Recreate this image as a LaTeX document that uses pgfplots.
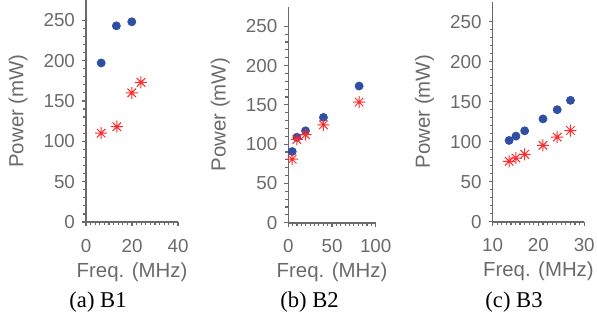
\documentclass[border=0pt]{standalone}
\usepackage{pgfplots}
\pgfplotsset{compat=1.18}
\usepackage{fontspec}
\setmainfont{Liberation Sans}
\newfontfamily\capfont{Liberation Serif}
\definecolor{mblue}{HTML}{2F4FA5}
\definecolor{mred}{HTML}{FF2A2A}
\definecolor{axgray}{HTML}{6A6A6A}
\pgfdeclareplotmark{starx}{%
 \pgfpathmoveto{\pgfqpoint{-\pgfplotmarksize}{0pt}}\pgfpathlineto{\pgfqpoint{\pgfplotmarksize}{0pt}}%
 \pgfpathmoveto{\pgfqpoint{0pt}{-\pgfplotmarksize}}\pgfpathlineto{\pgfqpoint{0pt}{\pgfplotmarksize}}%
 \pgfpathmoveto{\pgfqpoint{-0.707\pgfplotmarksize}{-0.707\pgfplotmarksize}}\pgfpathlineto{\pgfqpoint{0.707\pgfplotmarksize}{0.707\pgfplotmarksize}}%
 \pgfpathmoveto{\pgfqpoint{-0.707\pgfplotmarksize}{0.707\pgfplotmarksize}}\pgfpathlineto{\pgfqpoint{0.707\pgfplotmarksize}{-0.707\pgfplotmarksize}}%
 \pgfusepathqstroke}
\pgfplotsset{panel/.style={
  scale only axis, anchor=south west,
  axis lines*=left,
  axis line style={axgray, line width=0.8pt},
  tick style={axgray, line width=0.6pt},
  tick align=outside,
  major tick length=2pt, minor tick length=1.5pt,
  ymin=0, ymax=275, ytick={0,50,...,250},
  minor y tick num=4, minor x tick num=9,
  tick label style={font=\fontsize{9.4}{10}\selectfont, text=axgray},
  xticklabel style={yshift=-3pt},
  /pgf/number format/assume math mode=true,
  ylabel={Power (mW)}, xlabel={Freq. (MHz)},
  every axis y label/.style={at={(rel axis cs:0,0.5)}, xshift=-34pt, rotate=90, anchor=center,
     font=\fontsize{10.2}{11}\selectfont, text=axgray},
  every axis x label/.style={at={(rel axis cs:0.5,0)}, yshift=-25pt, anchor=center,
     font=\fontsize{10.2}{11}\selectfont, text=axgray},
  clip=false,
}}
\pgfplotsset{bluepts/.style={only marks, mark=*, mark size=2pt, color=mblue},
 redpts/.style={only marks, mark=starx, mark size=3pt, color=mred, line width=0.5pt}}
\begin{document}
\begin{tikzpicture}
\useasboundingbox (0,0) rectangle (298.5pt,161pt);
\begin{axis}[panel, at={(43pt,50pt)}, width=46pt, height=111pt,
  xmin=0, xmax=40, xtick={0,20,40}]
\addplot[bluepts] coordinates {(6.6,197) (13.2,243) (19.9,248)};
\addplot[redpts] coordinates {(6.6,110) (13.4,118) (19.9,160) (23.9,173)};
\end{axis}
\begin{axis}[panel, at={(144.15pt,49.65pt)}, width=43.7pt, height=108pt,
  xmin=0, xmax=100, xtick={0,50,100}]
\addplot[bluepts] coordinates {(4.5,90.6) (9.8,108.8) (19.7,117) (40.2,134) (81,174)};
\addplot[redpts] coordinates {(4.5,80.8) (9.8,106) (19.7,112) (40.2,124.6) (81,153.5)};
\end{axis}
\begin{axis}[panel, at={(246.3pt,50.15pt)}, width=45.8pt, height=110pt,
  xmin=10, xmax=30, xtick={10,20,30}]
\addplot[bluepts] coordinates {(13.6,101.6) (15.1,107) (17.0,113.6) (21.0,128.5) (24.1,140) (27.0,151.7)};
\addplot[redpts] coordinates {(13.6,75.5) (15.1,79.6) (17.0,84.2) (21.0,95.4) (24.1,105.7) (27.0,114)};
\end{axis}
\node[font=\capfont\fontsize{11.3}{12}\selectfont] at (49pt,10.15pt) {(a) B1};
\node[font=\capfont\fontsize{11.3}{12}\selectfont] at (154.75pt,10.15pt) {(b) B2};
\node[font=\capfont\fontsize{11.3}{12}\selectfont] at (257pt,10.15pt) {(c) B3};
\end{tikzpicture}
\end{document}
